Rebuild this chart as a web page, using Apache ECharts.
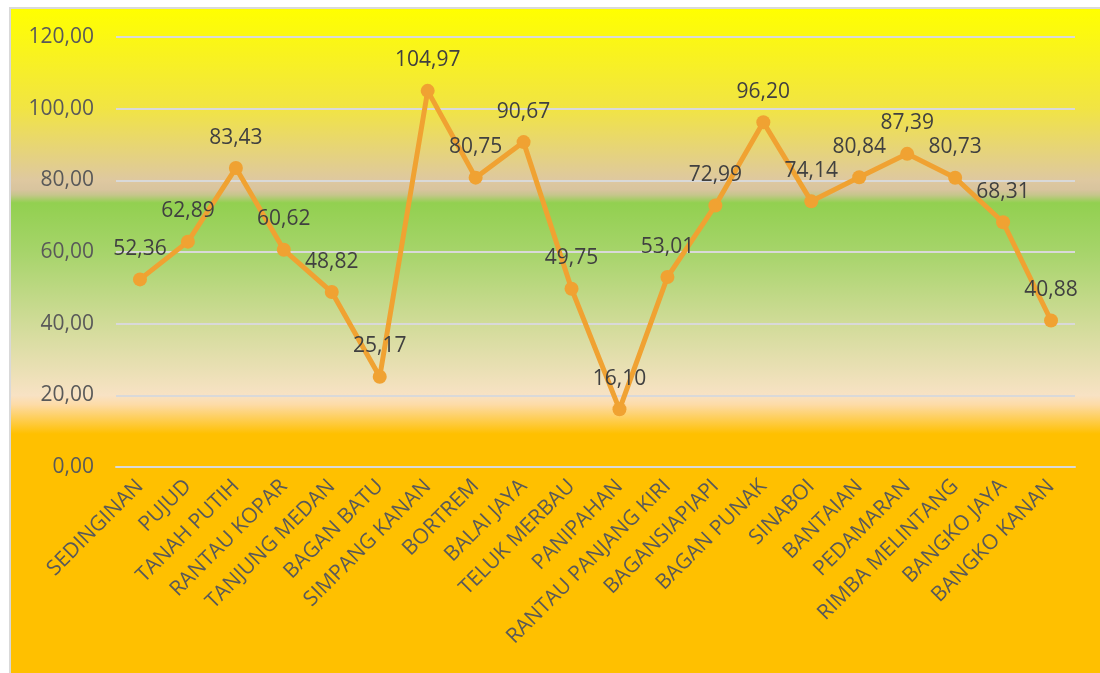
<!DOCTYPE html>
<html>
<head>
<meta charset="utf-8">
<script src="https://cdn.jsdelivr.net/npm/echarts@6/dist/echarts.min.js"></script>
<style>
  html, body { margin: 0; padding: 0; background: #ffffff; overflow: hidden; }
  #chart {
    position: absolute; left: 9px; top: 7px;
    width: 1089px; height: 664px;
    border-left: 2px solid #D9D9D9; border-top: 2px solid #D9D9D9;
  }
</style>
</head>
<body>
<div id="chart"></div>
<script>
// Sub-district names along the x axis
const categories = [
  'SEDINGINAN', 'PUJUD', 'TANAH PUTIH', 'RANTAU KOPAR', 'TANJUNG MEDAN',
  'BAGAN BATU', 'SIMPANG KANAN', 'BORTREM', 'BALAI JAYA', 'TELUK MERBAU',
  'PANIPAHAN', 'RANTAU PANJANG KIRI', 'BAGANSIAPIAPI', 'BAGAN PUNAK', 'SINABOI',
  'BANTAIAN', 'PEDAMARAN', 'RIMBA MELINTANG', 'BANGKO JAYA', 'BANGKO KANAN'
];
// One value per sub-district
const values = [
  52.36, 62.89, 83.43, 60.62, 48.82,
  25.17, 104.97, 80.75, 90.67, 49.75,
  16.10, 53.01, 72.99, 96.20, 74.14,
  80.84, 87.39, 80.73, 68.31, 40.88
];
// Value axis range
const yMin = 0, yMax = 120, yStep = 20;

const fmt = v => Number(v).toFixed(2).replace('.', ',');
const FONT = '"Open Sans", "Noto Sans", sans-serif';

const chart = echarts.init(document.getElementById('chart'));
chart.setOption({
  animation: false,
  backgroundColor: new echarts.graphic.LinearGradient(0, 0, 0, 1, [
    { offset: 0.000, color: '#FFFF00' },
    { offset: 0.150, color: '#F1E444' },
    { offset: 0.258, color: '#DEC8A0' },
    { offset: 0.272, color: '#D8C49E' },
    { offset: 0.280, color: '#C6C68C' },
    { offset: 0.292, color: '#92D050' },
    { offset: 0.365, color: '#A6D46A' },
    { offset: 0.483, color: '#D4DC9C' },
    { offset: 0.582, color: '#F8E2C4' },
    { offset: 0.596, color: '#FDDBA6' },
    { offset: 0.640, color: '#FFC000' },
    { offset: 1.000, color: '#FFC000' }
  ]),
  grid: { left: 105, right: 25, top: 28, bottom: 206, containLabel: false },
  xAxis: {
    type: 'category',
    data: categories,
    boundaryGap: true,
    axisLine: { show: true, lineStyle: { color: '#D9D9D9', width: 2 } },
    axisTick: { show: false },
    axisLabel: {
      interval: 0, rotate: 45, margin: 16,
      color: '#595959', fontSize: 21, fontFamily: FONT
    }
  },
  yAxis: {
    type: 'value',
    min: yMin, max: yMax, interval: yStep,
    axisLine: { show: false },
    axisTick: { show: false },
    splitLine: { lineStyle: { color: '#D9D9D9', width: 2 } },
    axisLabel: {
      formatter: fmt, margin: 22,
      color: '#595959', fontSize: 21, fontFamily: FONT
    }
  },
  series: [{
    type: 'line',
    data: values,
    symbol: 'circle',
    symbolSize: 14,
    lineStyle: { color: '#F0A232', width: 5 },
    itemStyle: { color: '#F0A232' },
    label: {
      show: true, position: 'top', distance: 13,
      formatter: p => fmt(p.value),
      color: '#404040', fontSize: 21, fontFamily: FONT
    }
  }]
});
</script>
</body>
</html>
